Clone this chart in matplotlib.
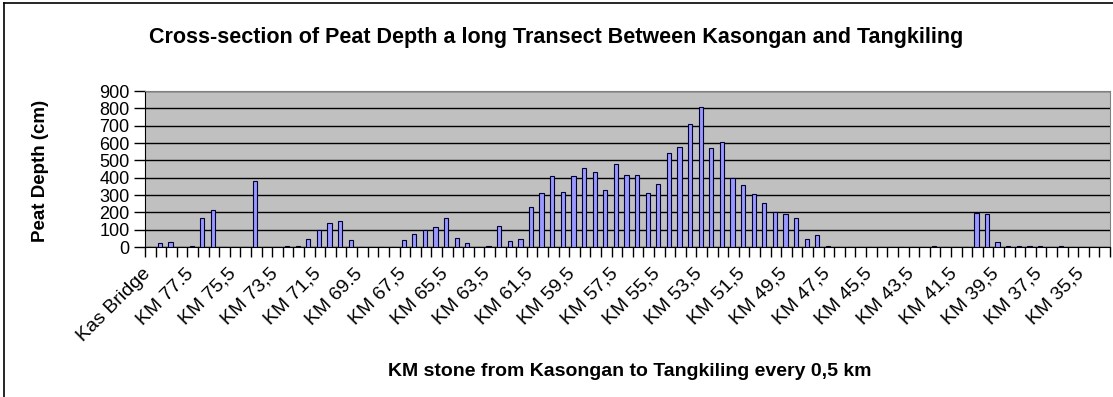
import numpy as np
import matplotlib
matplotlib.use("Agg")
import matplotlib.pyplot as plt
from matplotlib.lines import Line2D
from matplotlib.transforms import ScaledTranslation

plt.rcParams['font.family'] = ['Liberation Sans', 'DejaVu Sans']

# peat depth (cm) every 0,5 km, starting at Kasongan bridge
peat_depth = [0, 23, 31, 0, 5, 168, 214, 0, 0, 0,
              381, 0, 0, 5, 5, 46, 98, 137, 152, 39,
              0, 0, 0, 0, 39, 77, 98, 116, 170, 54,
              23, 0, 5, 121, 37, 46, 229, 312, 410, 318,
              410, 457, 434, 328, 480, 418, 418, 312, 364, 541,
              578, 709, 805, 570, 607, 397, 356, 304, 256, 204,
              189, 168, 44, 67, 5, 0, 0, 0, 0, 0,
              0, 0, 0, 0, 5, 0, 0, 0, 197, 191,
              31, 5, 5, 5, 5, 0, 5, 0, 0, 0,
              0]

# every 4th km stone gets a label
tick_labels = ['Kas Bridge', 'KM 77.5', 'KM 75,5', 'KM 73,5', 'KM 71,5',
               'KM 69.5', 'KM 67,5', 'KM 65,5', 'KM 63,5', 'KM 61,5',
               'KM 59,5', 'KM 57,5', 'KM 55,5', 'KM 53,5', 'KM 51,5',
               'KM 49,5', 'KM 47,5', 'KM 45,5', 'KM 43,5', 'KM 41,5',
               'KM 39,5', 'KM 37,5', 'KM 35,5']

x = np.arange(len(peat_depth))

fig = plt.figure(figsize=(11.13, 3.97), dpi=100)
ax = fig.add_axes([145 / 1113, 1 - 247 / 397, 965 / 1113, 156 / 397])
ax.set_facecolor('#C0C0C0')

ax.bar(x - 0.1, peat_depth, width=0.4, color='#9999FF', edgecolor='#000033', linewidth=0.8, zorder=3)

ax.set_xlim(-0.5, len(peat_depth) - 0.5)
ax.set_ylim(0, 900)
ax.set_yticks(range(0, 901, 100))
ax.yaxis.grid(True, color='black', linewidth=1, zorder=1)
ax.set_axisbelow(True)

ax.set_xticks(x[::4])
ax.set_xticklabels(tick_labels, rotation=45, ha='right', va='top', rotation_mode='anchor', fontsize=14)
ax.set_xticks(np.arange(-0.5, len(peat_depth)), minor=True)
ax.tick_params(axis='x', which='major', length=0, pad=13)
ax.tick_params(axis='x', which='minor', length=7, width=1, color='black')
ax.tick_params(axis='y', length=8, width=1, pad=3, labelsize=13)

# nudge the slanted labels a bit to the left (after tick_params, which resets transforms)
shift = ScaledTranslation(-8 / 100, 0, fig.dpi_scale_trans)
for lbl in ax.get_xticklabels():
    lbl.set_transform(lbl.get_transform() + shift)

for side in ['top', 'right']:
    ax.spines[side].set_color('#808080')
ax.spines['left'].set_color('black')
ax.spines['bottom'].set_color('black')

fig.text(556 / 1113, 1 - 38 / 397, 'Cross-section of Peat Depth a long Transect Between Kasongan and Tangkiling',
         ha='center', va='center', fontsize=15.5, fontweight='bold')
fig.text(41 / 1113, 1 - 171 / 397, 'Peat Depth (cm)', rotation=90,
         ha='center', va='center', fontsize=13.5, fontweight='bold')
fig.text(630 / 1113, 1 - 372 / 397, 'KM stone from Kasongan to Tangkiling every 0,5 km',
         ha='center', va='center', fontsize=14, fontweight='bold')

# chart border
fig.add_artist(Line2D([4 / 1113, 4 / 1113], [0, 1 - 3 / 397], transform=fig.transFigure, color='black', lw=1.2))
fig.add_artist(Line2D([4 / 1113, 1], [1 - 3 / 397, 1 - 3 / 397], transform=fig.transFigure, color='black', lw=1.2))

fig.savefig('out.png', dpi=100)
